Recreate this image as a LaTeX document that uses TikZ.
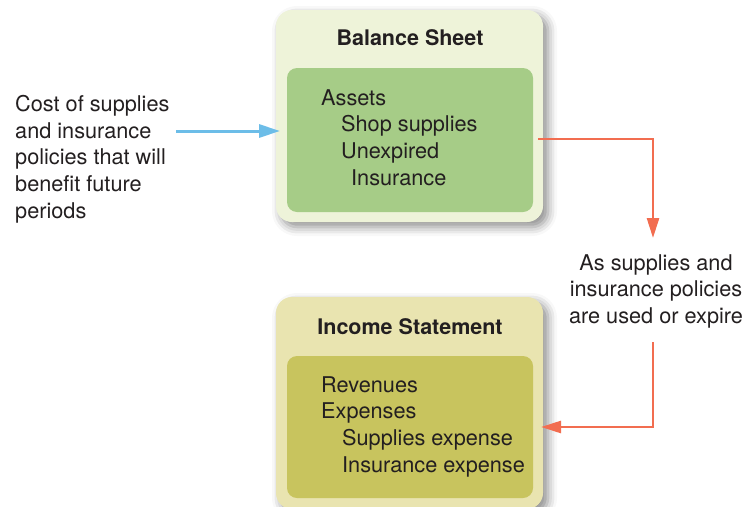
\documentclass[tikz,border=0pt]{standalone}
\usepackage{fontspec}
\setmainfont{TeX Gyre Heros}
\usetikzlibrary{arrows.meta,shadows.blur}
\definecolor{bsouter}{HTML}{EEF3D9}
\definecolor{bsinner}{HTML}{A6CC87}
\definecolor{isouter}{HTML}{E9E4B0}
\definecolor{isinner}{HTML}{C8C45E}
\definecolor{inkgray}{HTML}{231F20}
\definecolor{bluearrow}{HTML}{6CBDE8}
\definecolor{redarrow}{HTML}{F26D50}
\tikzset{
  outerbox/.style={rounded corners=16pt, minimum width=267pt, minimum height=212pt,
    blur shadow={shadow xshift=5pt, shadow yshift=-5pt, shadow blur radius=9pt, shadow opacity=45}},
  innerbox/.style={rounded corners=10pt, minimum width=246pt},
  boxtitle/.style={font=\fontsize{21.5}{25}\selectfont\bfseries, text=inkgray},
  bodytext/.style={font=\fontsize{21.7}{26.7}\selectfont, text=inkgray, align=left, inner sep=0pt},
  feedline/.style={line width=3pt, bluearrow, -{Triangle[length=21pt,width=13pt]}},
  flowline/.style={line width=2.6pt, redarrow, -{Triangle[length=20pt,width=12pt]}}
}
\begin{document}
\begin{tikzpicture}[x=1pt,y=-1pt]
  \useasboundingbox (0,0) rectangle (743,506);

  % balance sheet
  \node[outerbox, fill=bsouter] (bs) at (409.5,116) {};
  \node[innerbox, fill=bsinner, minimum height=144pt] (bsin) at (410,140) {};
  \node[boxtitle] (bstitle) at (410,38) {Balance Sheet};
  \node[bodytext, anchor=north west] (bstext) at (321,89)
    {Assets\\\hspace*{20pt}Shop supplies\\\hspace*{20pt}Unexpired\\\hspace*{30pt}Insurance};

  % income statement
  \node[outerbox, fill=isouter] (is) at (409.5,403) {};
  \node[innerbox, fill=isinner, minimum height=142pt] (isin) at (410,427) {};
  \node[boxtitle] (istitle) at (410,327) {Income Statement};
  \node[bodytext, anchor=north west] (istext) at (321,376)
    {Revenues\\Expenses\\\hspace*{21pt}Supplies expense\\\hspace*{21pt}Insurance expense};

  % side notes
  \node[bodytext, anchor=north west] (cost) at (15,95)
    {Cost of supplies\\and insurance\\policies that will\\benefit future\\periods};
  \node[bodytext, align=center, anchor=north] (used) at (656,254)
    {As supplies and\\insurance policies\\are used or expire};

  \coordinate (costend) at (176,131);
  \coordinate (bstip) at (280,131);
  \coordinate (bsout) at (538,139);
  \coordinate (usedin) at (653,238);
  \coordinate (usedout) at (653,342);
  \coordinate (istip) at (541,427);

  \draw[feedline] (costend) -- (bstip);
  \draw[flowline] (bsout) -| (usedin);
  \draw[flowline] (usedout) |- (istip);
\end{tikzpicture}
\end{document}
